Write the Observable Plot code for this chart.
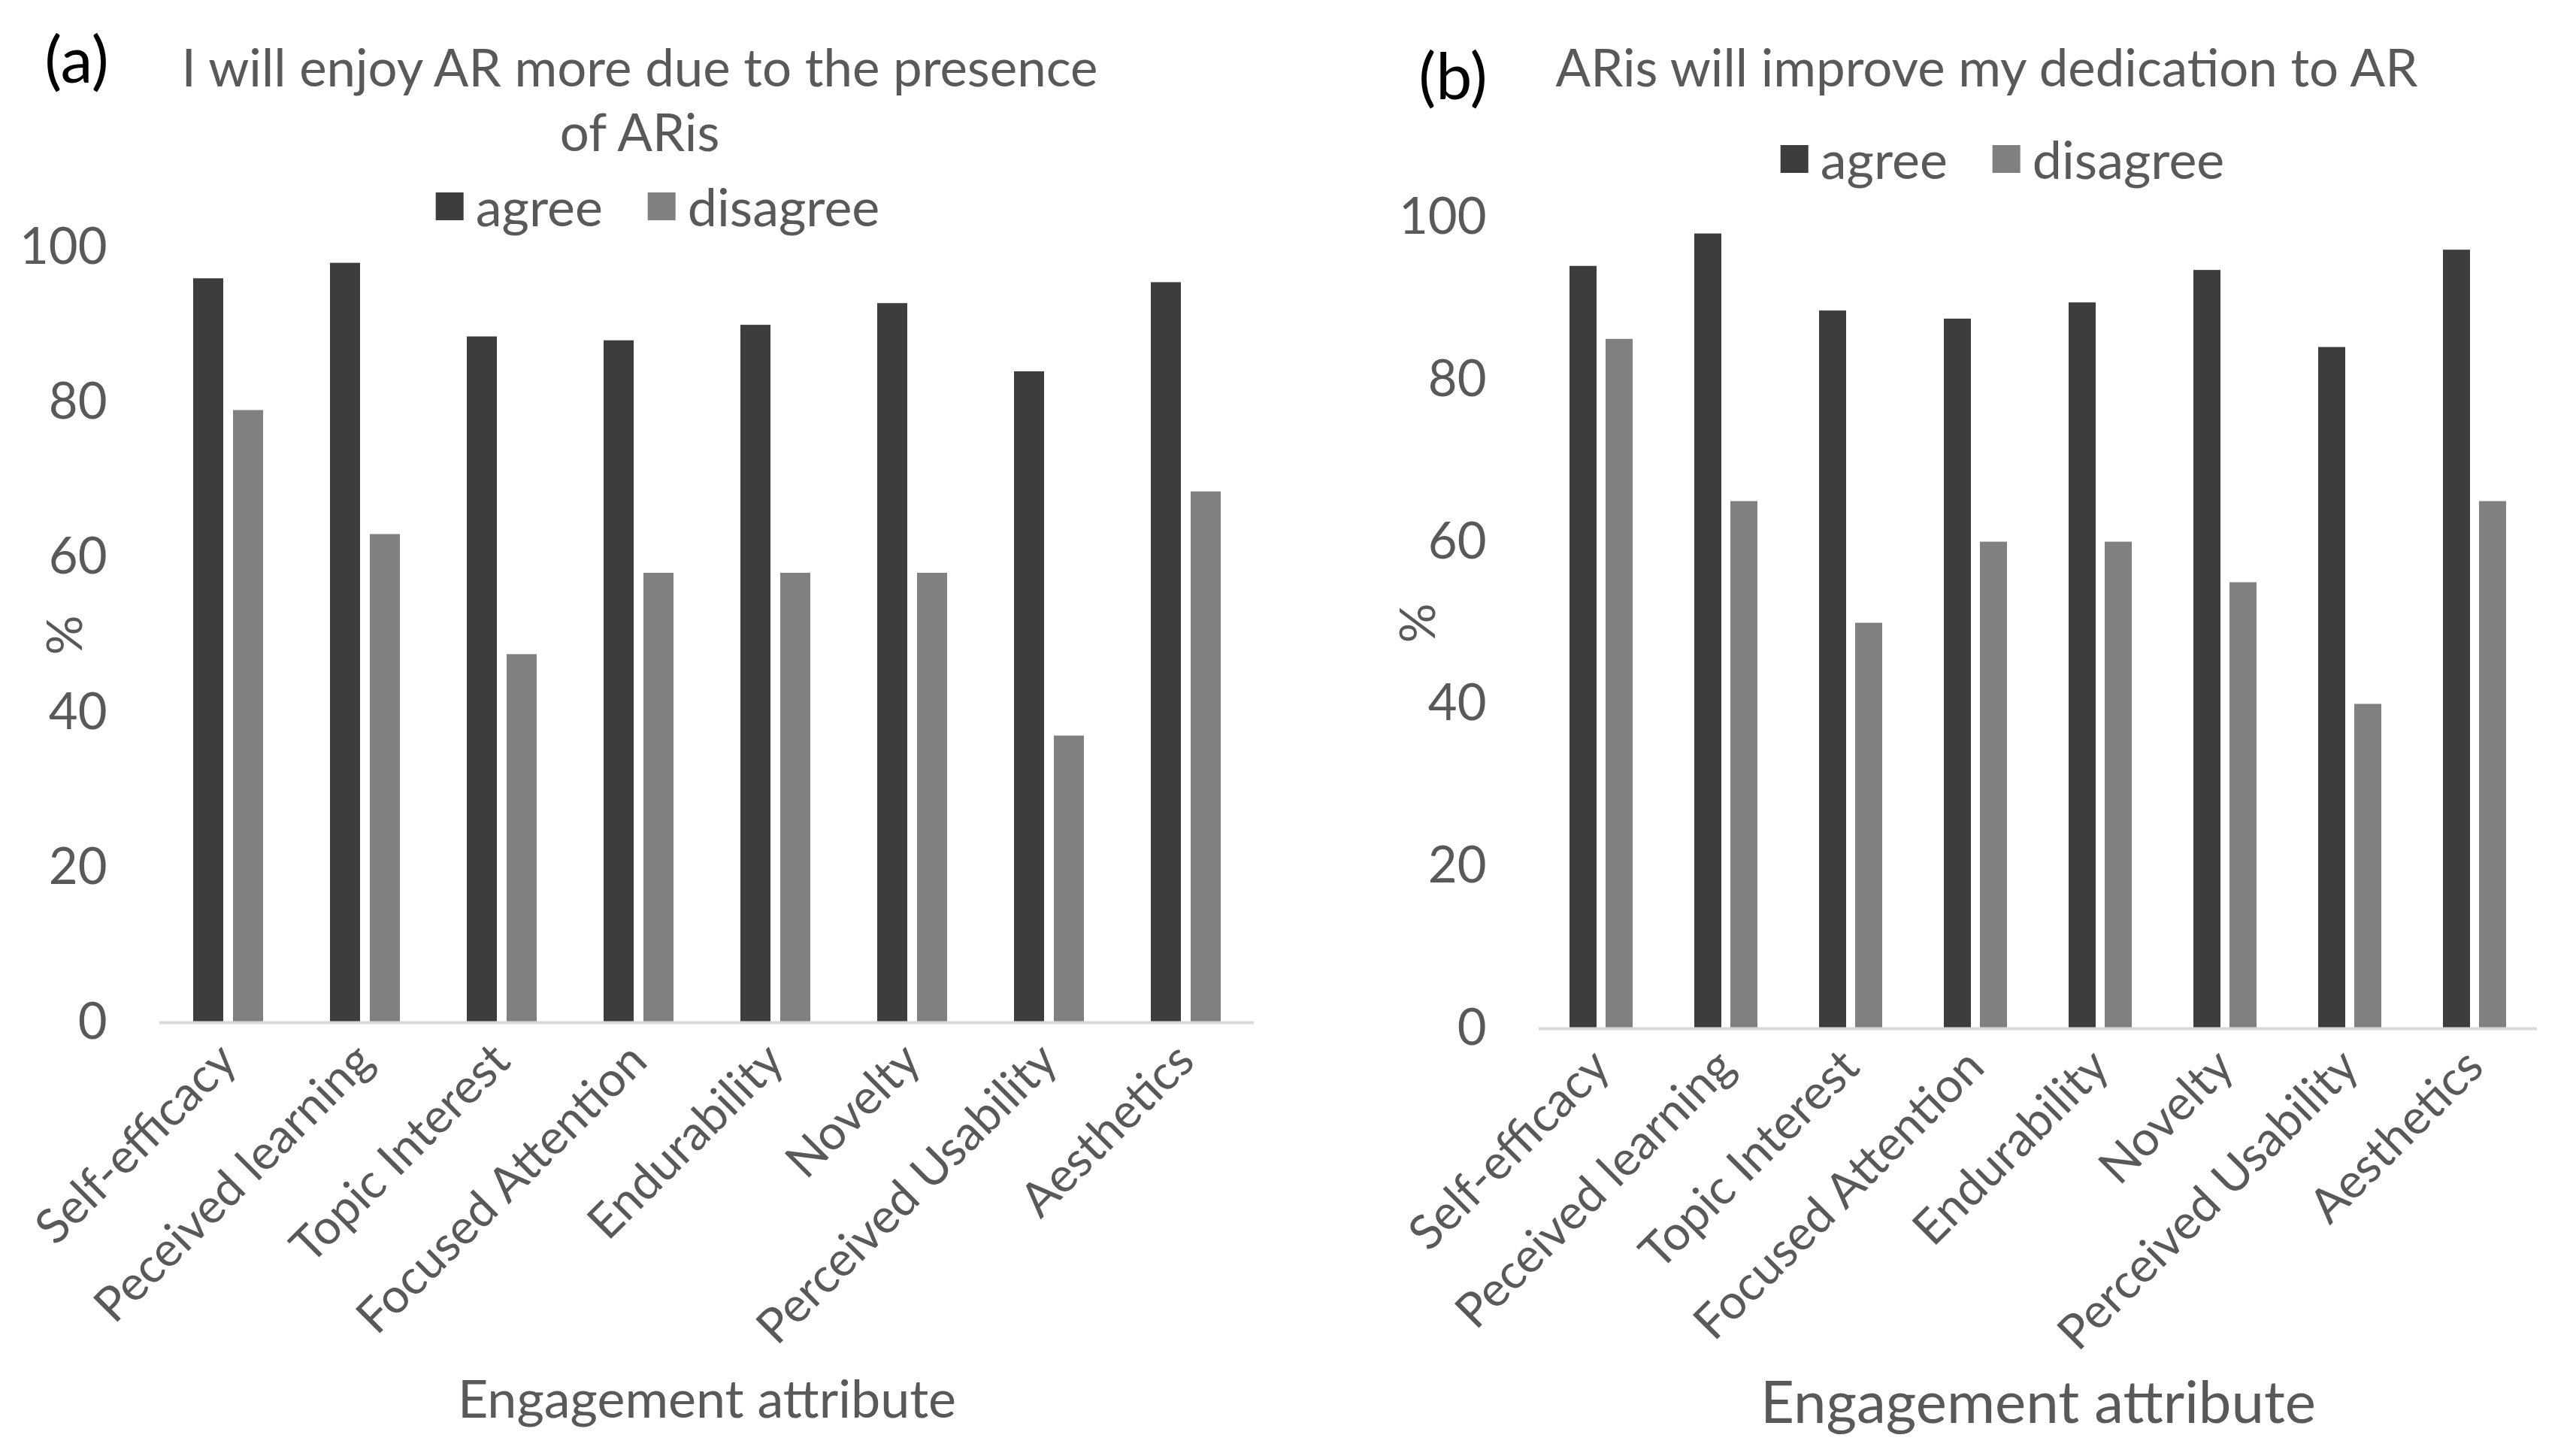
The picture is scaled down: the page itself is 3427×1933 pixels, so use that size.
<!DOCTYPE html>
<html>
<head>
<meta charset="utf-8">
<script src="https://cdn.jsdelivr.net/npm/d3@7"></script>
<script src="https://cdn.jsdelivr.net/npm/@observablehq/plot@0.6"></script>
<style>
  html, body { margin: 0; padding: 0; background: #fff; }
  #page { position: relative; width: 3427px; height: 1933px; overflow: hidden; font-family: Lato, "Open Sans", sans-serif; }
  .panel { position: absolute; top: 0; height: 1933px; }
  .panel svg { position: absolute; left: 0; top: 0; }
  .txt { position: absolute; color: #595959; white-space: nowrap; transform: translate(-50%, -50%); line-height: 1; }
  .letter { position: absolute; color: #000; white-space: nowrap; transform: translate(-50%, -50%); line-height: 1; font-size: 86px; }
  .legend { position: absolute; display: flex; align-items: center; gap: 0; transform: translate(-50%, -50%); color: #595959; font-size: 70px; white-space: nowrap; }
  .legend .sw { display: inline-block; width: 37px; height: 37px; margin-right: 16px; }
  .legend .item { display: flex; align-items: center; margin: 0 30px; }
  g[aria-label="y-axis tick label"] text { font-size: 67px; }
  g[aria-label="fx-axis tick label"] text { font-size: 64px; }
  g[aria-label="y-axis label"] text { font-size: 66px; }
  g[aria-label="fx-axis label"] text { font-size: 70px; }
  #panelB g[aria-label="fx-axis label"] text { font-size: 78px; }
</style>
</head>
<body>
<div id="page">
  <div class="panel" id="panelA" style="left:0; width:1713px;"></div>
  <div class="panel" id="panelB" style="left:1713px; width:1714px;"></div>
</div>
<script>
const categories = ["Self-efficacy", "Peceived learning", "Topic Interest", "Focused Attention", "Endurability", "Novelty", "Perceived Usability", "Aesthetics"];
const seriesNames = ["agree", "disagree"];
const seriesColors = ["#3d3d3d", "#808080"];
const enjoyAgree = [96, 98, 88.5, 88, 90, 92.8, 84, 95.5];
const enjoyDisagree = [79, 63, 47.5, 58, 58, 58, 37, 68.5];
const dedicationAgree = [94, 98, 88.5, 87.5, 89.5, 93.5, 84, 96];
const dedicationDisagree = [85, 65, 50, 60, 60, 55, 40, 65];
const yTicks = [0, 20, 40, 60, 80, 100];
const titleA = ["I will enjoy AR more due to the presence", "of ARis"];
const titleB = ["ARis will improve my dedication to AR"];
const xLabel = "Engagement attribute";
const yLabel = "%";

function buildRows(agree, disagree) {
  const rows = [];
  categories.forEach((c, i) => {
    rows.push({category: c, series: seriesNames[0], value: agree[i]});
    rows.push({category: c, series: seriesNames[1], value: disagree[i]});
  });
  return rows;
}

function makeChart(rows, o) {
  return Plot.plot({
    width: o.width,
    height: 1933,
    marginLeft: o.marginLeft,
    marginRight: o.marginRight,
    marginTop: o.marginTop,
    marginBottom: o.marginBottom,
    style: {fontFamily: "Lato, 'Open Sans', sans-serif", color: "#595959", background: "transparent", overflow: "visible"},
    fx: {
      domain: categories, padding: 0, axis: "bottom",
      tickRotate: -45, tickSize: 0, tickPadding: 40,
      label: xLabel, labelAnchor: "center", labelOffset: o.xLabelOffset
    },
    x: {domain: seriesNames, axis: null, paddingInner: 0.25, paddingOuter: 0.84},
    y: {
      domain: [0, 100], ticks: yTicks, tickSize: 0, tickPadding: 70,
      label: yLabel, labelAnchor: "center", labelOffset: o.yLabelOffset, labelArrow: "none"
    },
    color: {domain: seriesNames, range: seriesColors},
    marks: [
      Plot.barY(rows, {fx: "category", x: "series", y: "value", fill: "series"}),
      Plot.ruleY([0], {stroke: "#d9d9d9", strokeWidth: 4})
    ]
  });
}

function addText(parent, cls, text, x, y, size, extra) {
  const d = document.createElement("div");
  d.className = cls;
  d.textContent = text;
  d.style.left = x + "px";
  d.style.top = y + "px";
  if (size) d.style.fontSize = size + "px";
  if (extra) Object.assign(d.style, extra);
  parent.appendChild(d);
}

function addLegend(parent, x, y) {
  const lg = document.createElement("div");
  lg.className = "legend";
  lg.style.left = x + "px";
  lg.style.top = y + "px";
  seriesNames.forEach((s, i) => {
    const it = document.createElement("span");
    it.className = "item";
    const sw = document.createElement("span");
    sw.className = "sw";
    sw.style.background = seriesColors[i];
    it.appendChild(sw);
    it.appendChild(document.createTextNode(s));
    lg.appendChild(it);
  });
  parent.appendChild(lg);
}

const pA = document.getElementById("panelA");
pA.appendChild(makeChart(buildRows(enjoyAgree, enjoyDisagree), {
  width: 1713, marginLeft: 208, marginRight: 42, marginTop: 329, marginBottom: 573,
  xLabelOffset: 525, yLabelOffset: 150
}));
addText(pA, "letter", "(a)", 102, 77);
addText(pA, "txt", titleA[0], 851, 88, 69);
addText(pA, "txt", titleA[1], 851, 174, 69);
addLegend(pA, 875, 274);

const pB = document.getElementById("panelB");
pB.appendChild(makeChart(buildRows(dedicationAgree, dedicationDisagree), {
  width: 1714, marginLeft: 331, marginRight: 50, marginTop: 289, marginBottom: 565,
  xLabelOffset: 524, yLabelOffset: 185
}));
addText(pB, "letter", "(b)", 1933 - 1713, 99);
addText(pB, "txt", titleB[0], 2643 - 1713, 88, 69);
addLegend(pB, 2664 - 1713, 211);
</script>
</body>
</html>
